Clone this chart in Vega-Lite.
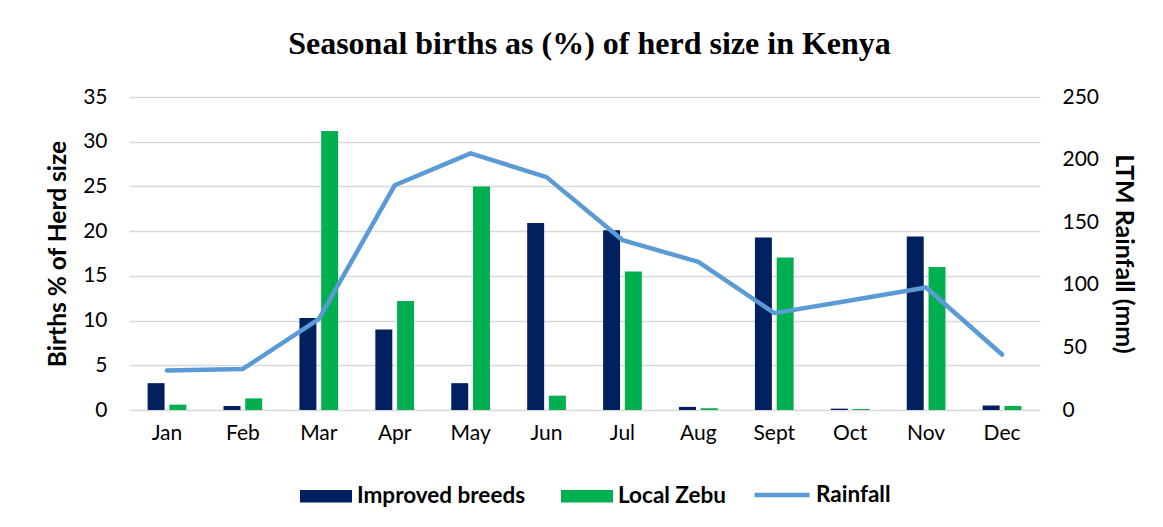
{
  "$schema": "https://vega.github.io/schema/vega-lite/v6.json",
  "width": 911,
  "height": 313,
  "autosize": {"type": "none"},
  "padding": {"left": 129, "top": 97, "right": 123, "bottom": 117},
  "background": "white",
  "config": {"view": {"stroke": null}},
  "title": {
    "text": "Seasonal births as (%) of herd size in Kenya",
    "font": "Liberation Serif",
    "fontSize": 32,
    "fontWeight": "bold",
    "color": "black",
    "anchor": "middle",
    "baseline": "alphabetic",
    "offset": 0,
    "dx": 5
  },
  "datasets": {
    "births": [
      {"month": "Jan", "breed": "Improved breeds", "value": 3.0},
      {"month": "Jan", "breed": "Local Zebu", "value": 0.6},
      {"month": "Feb", "breed": "Improved breeds", "value": 0.45},
      {"month": "Feb", "breed": "Local Zebu", "value": 1.3},
      {"month": "Mar", "breed": "Improved breeds", "value": 10.3},
      {"month": "Mar", "breed": "Local Zebu", "value": 31.2},
      {"month": "Apr", "breed": "Improved breeds", "value": 9.0},
      {"month": "Apr", "breed": "Local Zebu", "value": 12.2},
      {"month": "May", "breed": "Improved breeds", "value": 3.0},
      {"month": "May", "breed": "Local Zebu", "value": 25.0},
      {"month": "Jun", "breed": "Improved breeds", "value": 20.9},
      {"month": "Jun", "breed": "Local Zebu", "value": 1.6},
      {"month": "Jul", "breed": "Improved breeds", "value": 20.1},
      {"month": "Jul", "breed": "Local Zebu", "value": 15.5},
      {"month": "Aug", "breed": "Improved breeds", "value": 0.35},
      {"month": "Aug", "breed": "Local Zebu", "value": 0.2},
      {"month": "Sept", "breed": "Improved breeds", "value": 19.3},
      {"month": "Sept", "breed": "Local Zebu", "value": 17.05},
      {"month": "Oct", "breed": "Improved breeds", "value": 0.15},
      {"month": "Oct", "breed": "Local Zebu", "value": 0.1},
      {"month": "Nov", "breed": "Improved breeds", "value": 19.4},
      {"month": "Nov", "breed": "Local Zebu", "value": 16.0},
      {"month": "Dec", "breed": "Improved breeds", "value": 0.5},
      {"month": "Dec", "breed": "Local Zebu", "value": 0.45}
    ],
    "rain": [
      {"month": "Jan", "series": "Rainfall", "rainfall": 31.5},
      {"month": "Feb", "series": "Rainfall", "rainfall": 32.8},
      {"month": "Mar", "series": "Rainfall", "rainfall": 72.6},
      {"month": "Apr", "series": "Rainfall", "rainfall": 179.5},
      {"month": "May", "series": "Rainfall", "rainfall": 205},
      {"month": "Jun", "series": "Rainfall", "rainfall": 186},
      {"month": "Jul", "series": "Rainfall", "rainfall": 135.7},
      {"month": "Aug", "series": "Rainfall", "rainfall": 118.3},
      {"month": "Sept", "series": "Rainfall", "rainfall": 77.4},
      {"month": "Oct", "series": "Rainfall", "rainfall": 87.5},
      {"month": "Nov", "series": "Rainfall", "rainfall": 97.8},
      {"month": "Dec", "series": "Rainfall", "rainfall": 44.3}
    ]
  },
  "layer": [
    {
      "data": {"name": "births"},
      "mark": {"type": "bar"},
      "encoding": {
        "x": {
          "field": "month",
          "type": "nominal",
          "sort": ["Jan", "Feb", "Mar", "Apr", "May", "Jun", "Jul", "Aug", "Sept", "Oct", "Nov", "Dec"],
          "scale": {"paddingInner": 0.49, "paddingOuter": 0.245},
          "axis": {
            "title": null,
            "labelAngle": 0,
            "labelFont": "Lato",
            "labelFontSize": 21,
            "labelColor": "#000000",
            "labelPadding": 12,
            "ticks": false,
            "domain": false,
            "grid": false
          }
        },
        "xOffset": {
          "field": "breed",
          "type": "nominal",
          "sort": ["Improved breeds", "Local Zebu"],
          "scale": {"paddingInner": 0.22, "paddingOuter": 0}
        },
        "y": {
          "field": "value",
          "type": "quantitative",
          "scale": {"domain": [0, 35]},
          "axis": {
            "title": "Births % of Herd size",
            "titleFont": "Lato",
            "titleFontSize": 24.5,
            "titleFontWeight": "bold",
            "titleColor": "#000000",
            "titlePadding": 12,
            "labelFont": "Lato",
            "labelFontSize": 21,
            "labelColor": "#000000",
            "labelPadding": 22,
            "values": [0, 5, 10, 15, 20, 25, 30, 35],
            "ticks": false,
            "domain": false,
            "grid": true,
            "gridColor": "#D9D9D9",
            "gridWidth": 1.3
          }
        },
        "fill": {
          "field": "breed",
          "type": "nominal",
          "scale": {"domain": ["Improved breeds", "Local Zebu"], "range": ["#002060", "#00B050"]},
          "legend": {
            "title": null,
            "orient": "none",
            "legendX": 171,
            "legendY": 373,
            "direction": "horizontal",
            "columns": 2,
            "columnPadding": 35,
            "symbolType": "M-1,-0.24L1,-0.24L1,0.24L-1,0.24Z",
            "symbolSize": 2704,
            "symbolStrokeWidth": 0,
            "labelFont": "Lato",
            "labelFontSize": 22.5,
            "labelFontWeight": "bold",
            "labelColor": "#000000",
            "labelOffset": 5,
            "labelLimit": 400
          }
        }
      }
    },
    {
      "data": {"name": "rain"},
      "mark": {"type": "line", "strokeWidth": 4.5, "strokeCap": "round", "strokeJoin": "round"},
      "encoding": {
        "x": {
          "field": "month",
          "type": "nominal",
          "sort": ["Jan", "Feb", "Mar", "Apr", "May", "Jun", "Jul", "Aug", "Sept", "Oct", "Nov", "Dec"]
        },
        "y": {
          "field": "rainfall",
          "type": "quantitative",
          "scale": {"domain": [0, 250]},
          "axis": {
            "orient": "right",
            "title": "LTM Rainfall (mm)",
            "titleFont": "Lato",
            "titleFontSize": 25,
            "titleFontWeight": "bold",
            "titleColor": "#000000",
            "titlePadding": 12,
            "labelFont": "Lato",
            "labelFontSize": 21,
            "labelColor": "#000000",
            "labelPadding": 22,
            "values": [0, 50, 100, 150, 200, 250],
            "ticks": false,
            "domain": false,
            "grid": false
          }
        },
        "stroke": {
          "field": "series",
          "type": "nominal",
          "scale": {"domain": ["Rainfall"], "range": ["#5B9BD5"]},
          "legend": {
            "title": null,
            "orient": "none",
            "legendX": 623,
            "legendY": 368,
            "direction": "horizontal",
            "symbolType": "stroke",
            "symbolSize": 3025,
            "symbolStrokeWidth": 4.5,
            "labelFont": "Lato",
            "labelFontSize": 22.5,
            "labelFontWeight": "bold",
            "labelColor": "#000000",
            "labelOffset": 4,
            "labelLimit": 400
          }
        }
      }
    }
  ],
  "resolve": {"scale": {"y": "independent"}}
}
